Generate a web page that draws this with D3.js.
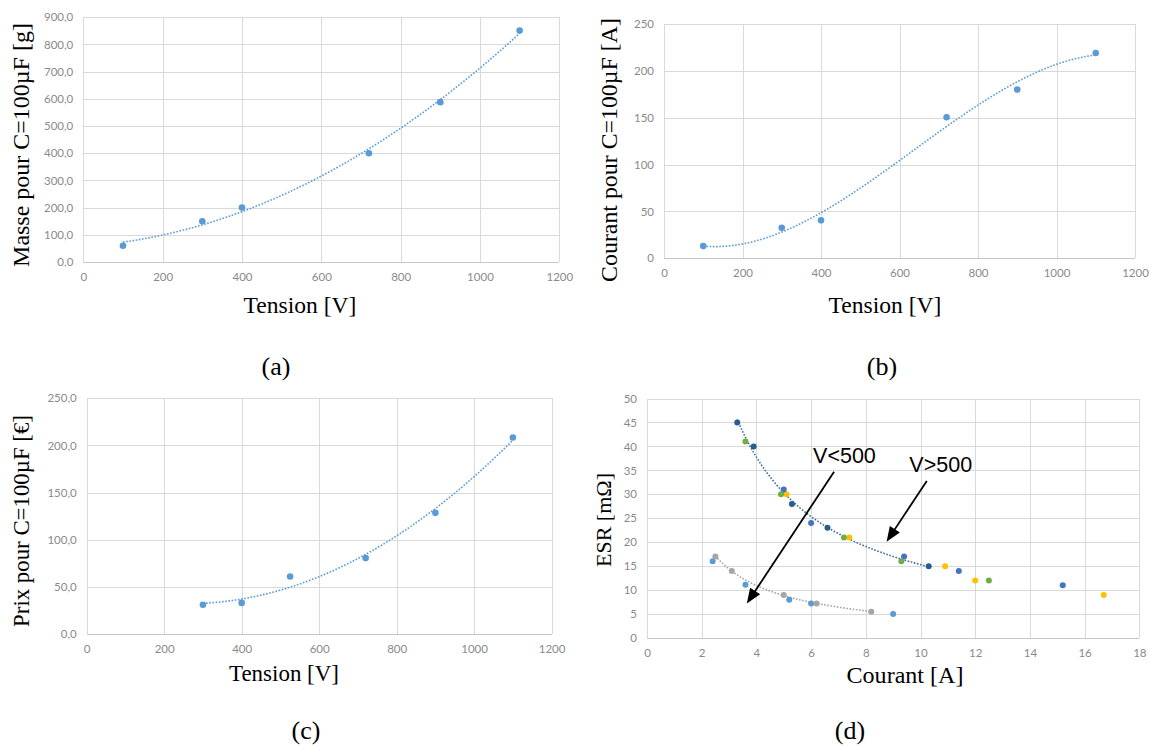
<!DOCTYPE html>
<html>
<head>
<meta charset="utf-8">
<script src="https://cdn.jsdelivr.net/npm/d3@7/dist/d3.min.js"></script>
<style>
  html, body { margin: 0; padding: 0; background: #ffffff; }
  svg { display: block; }
</style>
</head>
<body>
<svg id="chart" width="1151" height="747"></svg>
<script>
// ---------------- DATA ----------------
// (a) Masse vs Tension
const tensionA = [100, 300, 400, 720, 900, 1100];
const masseA   = [60, 150, 200, 400, 588, 851];
// (b) Courant vs Tension
const tensionB = [100, 300, 400, 720, 900, 1100];
const courantB = [13, 32.5, 40.5, 150.5, 180, 219];
// (c) Prix vs Tension
const tensionC = [300, 400, 525, 720, 900, 1100];
const prixC    = [31, 33, 61, 80.5, 128.5, 208.5];

// tick values
const ticksTension = [0, 200, 400, 600, 800, 1000, 1200];
const ticksMasse   = [0, 100, 200, 300, 400, 500, 600, 700, 800, 900];
const ticksCourant = [0, 50, 100, 150, 200, 250];
const ticksPrix    = [0, 50, 100, 150, 200, 250];
const ticksCourantD = [0, 2, 4, 6, 8, 10, 12, 14, 16, 18];
const ticksESR     = [0, 5, 10, 15, 20, 25, 30, 35, 40, 45, 50];

// (d) ESR vs Courant, one array per series: [courant A, ESR mΩ]
const seriesDarkBlue  = [[3.3, 45], [3.9, 40], [5.3, 28], [6.6, 23], [10.3, 15]];
const seriesGreen     = [[3.6, 41], [4.9, 30], [7.2, 21], [9.3, 16], [12.5, 12]];
const seriesYellow    = [[5.1, 30], [7.4, 21], [10.9, 15], [12, 12], [16.7, 9]];
const seriesBlue      = [[5.0, 31], [6.0, 24], [9.4, 17], [11.4, 14], [15.2, 11]];
const seriesLightBlue = [[2.4, 16], [3.6, 11.1], [5.2, 8], [6.0, 7.2], [9.0, 5]];
const seriesGray      = [[2.5, 17], [3.1, 14], [5.0, 9], [6.2, 7.2], [8.2, 5.5]];

// annotations (d) in data units
const annotLabels = ["V<500", "V>500"];
const annotText   = [[7.22, 38.0], [10.74, 36.1]];
const annotFrom   = [[6.84, 34.7], [10.23, 32.8]];
const annotTo     = [[3.65, 7.2], [8.76, 20.1]];

// ---------------- HELPERS ----------------
const svg = d3.select("#chart");
const frFmt1 = d3.formatLocale({decimal: ",", thousands: " ", grouping: [3], currency: ["", "€"]}).format(".1f");
const intFmt = d3.format("d");
const GRID = "#d9d9d9";
const TICK_COLOR = "#8a8a8a";
const TICK_FONT = "Lato, 'Liberation Sans', sans-serif";
const SERIF = "'Liberation Serif', 'DejaVu Serif', serif";

function solve(A, b) {
  const n = b.length;
  const M = A.map((r, i) => r.concat([b[i]]));
  for (let c = 0; c < n; c++) {
    let p = c;
    for (let r = c + 1; r < n; r++) if (Math.abs(M[r][c]) > Math.abs(M[p][c])) p = r;
    [M[c], M[p]] = [M[p], M[c]];
    for (let r = 0; r < n; r++) {
      if (r === c) continue;
      const f = M[r][c] / M[c][c];
      for (let k = c; k <= n; k++) M[r][k] -= f * M[c][k];
    }
  }
  return M.map((r, i) => r[n] / r[i]);
}
function polyfit(xs, ys, order) {
  const n = order + 1;
  const A = [], b = [];
  for (let i = 0; i < n; i++) {
    A.push([]);
    for (let j = 0; j < n; j++) A[i].push(d3.sum(xs, x => Math.pow(x, i + j)));
    b.push(d3.sum(xs.map((x, k) => Math.pow(x, i) * ys[k])));
  }
  const c = solve(A, b);
  return x => c.reduce((s, ci, i) => s + ci * Math.pow(x, i), 0);
}
function powerfit(pts) {
  const lx = pts.map(p => Math.log(p[0])), ly = pts.map(p => Math.log(p[1]));
  const mx = d3.mean(lx), my = d3.mean(ly);
  const bb = d3.sum(lx.map((v, i) => (v - mx) * (ly[i] - my))) / d3.sum(lx.map(v => (v - mx) * (v - mx)));
  const a = Math.exp(my - bb * mx);
  return x => a * Math.pow(x, bb);
}

function fitText(sel, target, base) {
  sel.attr("font-size", base);
  const w = sel.node().getComputedTextLength();
  sel.attr("font-size", base * target / w);
}

function panel(cfg) {
  const g = svg.append("g");
  const x = d3.scaleLinear().domain(cfg.xDomain).range([cfg.left, cfg.right]);
  const y = d3.scaleLinear().domain(cfg.yDomain).range([cfg.bottom, cfg.top]);
  const w = cfg.right - cfg.left, h = cfg.bottom - cfg.top;

  const gx = g.append("g").attr("transform", `translate(0,${cfg.bottom})`)
    .call(d3.axisBottom(x).tickValues(cfg.xTicks).tickSize(-h).tickPadding(cfg.xPad).tickFormat(intFmt));
  const gy = g.append("g").attr("transform", `translate(${cfg.left},0)`)
    .call(d3.axisLeft(y).tickValues(cfg.yTicks).tickSize(-w).tickPadding(10).tickFormat(cfg.yFmt));
  [gx, gy].forEach(a => {
    a.select(".domain").remove();
    a.selectAll(".tick line").attr("stroke", GRID).attr("stroke-width", 1).attr("shape-rendering", "crispEdges");
    a.selectAll(".tick text").attr("fill", TICK_COLOR).attr("font-family", TICK_FONT).attr("font-size", 11.5);
  });
  g.append("line").attr("x1", cfg.left).attr("x2", cfg.right).attr("y1", cfg.bottom).attr("y2", cfg.bottom)
    .attr("stroke", "#c8c8c8").attr("stroke-width", 1).attr("shape-rendering", "crispEdges");

  // titles
  const yt = g.append("text").text(cfg.yTitle)
    .attr("font-family", SERIF).attr("fill", "#000")
    .attr("text-anchor", "middle").attr("dominant-baseline", "central")
    .attr("transform", `translate(${cfg.yTitlePos[0]},${cfg.yTitlePos[1]}) rotate(-90)`);
  fitText(yt, cfg.yTitleLen, 24);
  const xt = g.append("text").text(cfg.xTitle)
    .attr("font-family", SERIF).attr("fill", "#000")
    .attr("text-anchor", "middle").attr("dominant-baseline", "central")
    .attr("x", cfg.xTitlePos[0]).attr("y", cfg.xTitlePos[1]);
  fitText(xt, cfg.xTitleLen, 23);
  g.append("text").text(cfg.label)
    .attr("font-family", SERIF).attr("fill", "#000").attr("font-size", 26)
    .attr("text-anchor", "middle").attr("dominant-baseline", "central")
    .attr("x", cfg.labelPos[0]).attr("y", cfg.labelPos[1]);
  return {g, x, y};
}

function trend(p, f, x0, x1, color) {
  const xs = d3.range(0, 201).map(i => x0 + (x1 - x0) * i / 200);
  p.g.append("path")
    .attr("d", d3.line().x(v => p.x(v)).y(v => p.y(f(v)))(xs))
    .attr("fill", "none").attr("stroke", color).attr("stroke-width", 1.6)
    .attr("stroke-dasharray", "1.6 1.6");
}
function dots(p, xs, ys, color, r) {
  p.g.append("g").selectAll("circle").data(xs).join("circle")
    .attr("cx", (d) => p.x(d)).attr("cy", (d, i) => p.y(ys[i]))
    .attr("r", r).attr("fill", color);
}

const PT = "#5b9bd5";

// ---------------- PANEL (a) ----------------
const pA = panel({
  left: 83.3, right: 559.3, top: 17.3, bottom: 262, xPad: 11,
  xDomain: [0, 1200], yDomain: [0, 900], xTicks: ticksTension, yTicks: ticksMasse, yFmt: frFmt1,
  yTitle: "Masse pour C=100µF [g]", yTitlePos: [21, 145], yTitleLen: 244,
  xTitle: "Tension [V]", xTitlePos: [300, 305], xTitleLen: 113,
  label: "(a)", labelPos: [276, 366]
});
trend(pA, polyfit(tensionA, masseA, 2), d3.min(tensionA), d3.max(tensionA), PT);
dots(pA, tensionA, masseA, PT, 3.3);

// ---------------- PANEL (b) ----------------
const pB = panel({
  left: 664, right: 1135, top: 24, bottom: 258.3, xPad: 11,
  xDomain: [0, 1200], yDomain: [0, 250], xTicks: ticksTension, yTicks: ticksCourant, yFmt: intFmt,
  yTitle: "Courant pour C=100µF [A]", yTitlePos: [609, 150], yTitleLen: 264,
  xTitle: "Tension [V]", xTitlePos: [885, 305], xTitleLen: 113,
  label: "(b)", labelPos: [882, 366]
});
trend(pB, polyfit(tensionB, courantB, 3), d3.min(tensionB), d3.max(tensionB), PT);
dots(pB, tensionB, courantB, PT, 3.3);

// ---------------- PANEL (c) ----------------
const pC = panel({
  left: 86.7, right: 551.6, top: 398.3, bottom: 634, xPad: 11,
  xDomain: [0, 1200], yDomain: [0, 250], xTicks: ticksTension, yTicks: ticksPrix, yFmt: frFmt1,
  yTitle: "Prix pour C=100µF [€]", yTitlePos: [21, 521], yTitleLen: 212,
  xTitle: "Tension [V]", xTitlePos: [284, 673], xTitleLen: 110,
  label: "(c)", labelPos: [306, 730]
});
trend(pC, polyfit(tensionC, prixC, 2), d3.min(tensionC), d3.max(tensionC), PT);
dots(pC, tensionC, prixC, PT, 3.3);

// ---------------- PANEL (d) ----------------
const pD = panel({
  left: 647, right: 1139.3, top: 398.5, bottom: 638, xPad: 10.5,
  xDomain: [0, 18], yDomain: [0, 50], xTicks: ticksCourantD, yTicks: ticksESR, yFmt: intFmt,
  yTitle: "ESR [mΩ]", yTitlePos: [603, 520], yTitleLen: 94,
  xTitle: "Courant [A]", xTitlePos: [905, 675], xTitleLen: 117,
  label: "(d)", labelPos: [850, 730]
});
trend(pD, powerfit(seriesDarkBlue), d3.min(seriesDarkBlue, d => d[0]), d3.max(seriesDarkBlue, d => d[0]), "#3d6fa3");
trend(pD, powerfit(seriesGray), d3.min(seriesGray, d => d[0]), d3.max(seriesGray, d => d[0]), "#a5a5a5");
const seriesD = [
  [seriesLightBlue, "#5b9bd5"],
  [seriesGray, "#a5a5a5"],
  [seriesYellow, "#ffc000"],
  [seriesBlue, "#4472c4"],
  [seriesGreen, "#70ad47"],
  [seriesDarkBlue, "#255e91"]
];
seriesD.forEach(([s, c]) => dots(pD, s.map(d => d[0]), s.map(d => d[1]), c, 3));

// annotations
annotLabels.forEach((lab, i) => {
  pD.g.append("text").text(lab)
    .attr("x", pD.x(annotText[i][0])).attr("y", pD.y(annotText[i][1]))
    .attr("text-anchor", "middle").attr("dominant-baseline", "central")
    .attr("font-family", "'Liberation Sans', Arial, sans-serif").attr("font-size", 21.5).attr("fill", "#000");
  const x1 = pD.x(annotFrom[i][0]), y1 = pD.y(annotFrom[i][1]);
  const x2 = pD.x(annotTo[i][0]), y2 = pD.y(annotTo[i][1]);
  const ang = Math.atan2(y2 - y1, x2 - x1);
  const L = 15, W = 6;
  const bx = x2 - L * Math.cos(ang), by = y2 - L * Math.sin(ang);
  pD.g.append("line").attr("x1", x1).attr("y1", y1).attr("x2", bx + 2 * Math.cos(ang)).attr("y2", by + 2 * Math.sin(ang))
    .attr("stroke", "#000").attr("stroke-width", 1.8);
  const px = -Math.sin(ang), py = Math.cos(ang);
  pD.g.append("path")
    .attr("d", `M${x2},${y2}L${bx + W * px},${by + W * py}L${bx - W * px},${by - W * py}Z`)
    .attr("fill", "#000");
});
</script>
</body>
</html>
